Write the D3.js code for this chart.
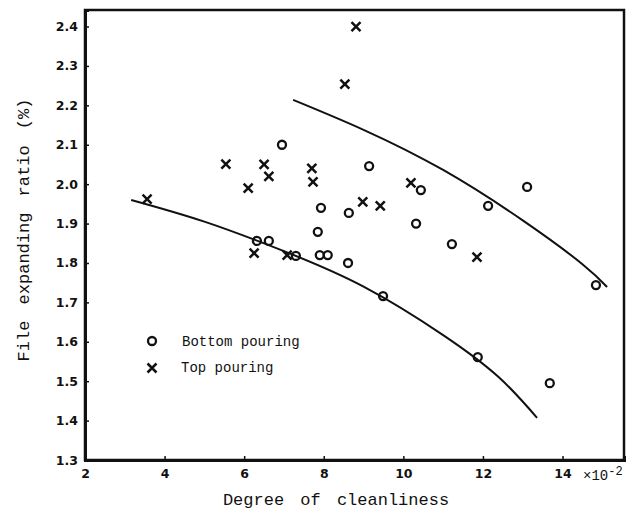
<!DOCTYPE html>
<html>
<head>
<meta charset="utf-8">
<script src="https://cdn.jsdelivr.net/npm/d3@7"></script>
<style>
    body { margin: 0; background: #fff; }
    .tick text { font-family: "DejaVu Sans", sans-serif; font-weight: bold; font-size: 12.5px; fill: #111; }
    .label { font-family: "Liberation Mono", "DejaVu Sans Mono", monospace; fill: #111; }
</style>
</head>
<body>
<div id="chart"></div>
<script>
// Bottom pouring (o) : degree of cleanliness (x10^-2), expanding ratio (%)
const bottomX = [6.95, 6.32, 6.62, 7.30, 7.93, 7.85, 7.90, 8.10, 8.63, 8.61, 9.14, 10.44, 10.32, 11.22, 12.13, 13.11, 14.84, 9.49, 11.87, 13.68];
const bottomY = [2.10, 1.856, 1.856, 1.818, 1.94, 1.879, 1.82, 1.82, 1.927, 1.80, 2.046, 1.985, 1.90, 1.848, 1.945, 1.993, 1.744, 1.716, 1.561, 1.495];

// Top pouring (x)
const topX = [3.56, 5.54, 6.10, 6.50, 6.62, 6.25, 7.08, 7.70, 7.73, 8.81, 8.53, 8.98, 9.42, 10.19, 11.85];
const topY = [1.962, 2.051, 1.99, 2.05, 2.02, 1.825, 1.82, 2.04, 2.006, 2.40, 2.254, 1.955, 1.945, 2.003, 1.815];

// hand drawn boundary curves
const lowerCurveX = [3.16, 5.0, 7.0, 9.0, 11.0, 12.4, 13.36];
const lowerCurveY = [1.96, 1.905, 1.83, 1.74, 1.617, 1.51, 1.407];
const upperCurveX = [7.23, 9.0, 11.0, 13.0, 14.5, 15.12];
const upperCurveY = [2.214, 2.138, 2.036, 1.908, 1.797, 1.739];

const xTicks = [2, 4, 6, 8, 10, 12, 14];
const yTicks = [1.3, 1.4, 1.5, 1.6, 1.7, 1.8, 1.9, 2.0, 2.1, 2.2, 2.3, 2.4];

var width = 626, height = 513;
var margin = {top: 10, right: 1, bottom: 53, left: 85};

var svg = d3.select("#chart")
    .append("svg")
    .attr("width", width)
    .attr("height", height);

var x = d3.scaleLinear()
    .domain([2, 15.57])
    .range([margin.left, width - margin.right]);

var y = d3.scaleLinear()
    .domain([1.3, 2.442])
    .range([height - margin.bottom, margin.top]);

// frame
svg.append("rect")
    .attr("x", margin.left)
    .attr("y", margin.top)
    .attr("width", width - margin.left - margin.right - 1)
    .attr("height", height - margin.top - margin.bottom)
    .attr("fill", "none")
    .attr("stroke", "#111")
    .attr("stroke-width", 2.5);

var xAxis = svg.append("g")
    .attr("transform", `translate(0,${height - margin.bottom})`)
    .call(d3.axisBottom(x).tickValues(xTicks).tickSize(-4).tickPadding(9).tickFormat(d3.format("d")));

var yAxis = svg.append("g")
    .attr("transform", `translate(${margin.left},0)`)
    .call(d3.axisLeft(y).tickValues(yTicks).tickSize(-4).tickPadding(7).tickFormat(d3.format(".1f")));

[xAxis, yAxis].forEach(function (a) {
    a.select(".domain").attr("stroke", "#111").attr("stroke-width", 3);
    a.selectAll(".tick line").attr("stroke", "#111").attr("stroke-width", 1.5);
});

// curves
var line = d3.line()
    .x(d => x(d[0]))
    .y(d => y(d[1]))
    .curve(d3.curveNatural);

svg.append("path")
    .datum(lowerCurveX.map((v, i) => [v, lowerCurveY[i]]))
    .attr("d", line)
    .attr("fill", "none")
    .attr("stroke", "#111")
    .attr("stroke-width", 2);

svg.append("path")
    .datum(upperCurveX.map((v, i) => [v, upperCurveY[i]]))
    .attr("d", line)
    .attr("fill", "none")
    .attr("stroke", "#111")
    .attr("stroke-width", 2);

// markers
function circleMark(g, cx, cy) {
    g.append("circle")
        .attr("cx", cx)
        .attr("cy", cy)
        .attr("r", 4)
        .attr("fill", "none")
        .attr("stroke", "#111")
        .attr("stroke-width", 2.3);
}

function crossMark(g, cx, cy) {
    var s = 4.5;
    g.append("path")
        .attr("d", `M${cx - s},${cy - s}L${cx + s},${cy + s}M${cx + s},${cy - s}L${cx - s},${cy + s}`)
        .attr("stroke", "#111")
        .attr("stroke-width", 2.5);
}

var marks = svg.append("g");
bottomX.forEach(function (v, i) {
    circleMark(marks, x(v), y(bottomY[i]));
});
topX.forEach(function (v, i) {
    crossMark(marks, x(v), y(topY[i]));
});

// legend
var legend = svg.append("g");
circleMark(legend, 152, 341);
legend.append("text")
    .attr("class", "label")
    .attr("x", 182)
    .attr("y", 346)
    .style("font-size", "14px")
    .text("Bottom pouring");
crossMark(legend, 152, 368);
legend.append("text")
    .attr("class", "label")
    .attr("x", 181)
    .attr("y", 372)
    .style("font-size", "14px")
    .text("Top pouring");

// axis titles
svg.append("text")
    .attr("class", "label")
    .attr("x", 336)
    .attr("y", 505)
    .attr("text-anchor", "middle")
    .style("font-size", "17px")
    .style("word-spacing", "6px")
    .text("Degree of cleanliness");

svg.append("text")
    .attr("class", "label")
    .attr("transform", "translate(29,230) rotate(-90)")
    .attr("text-anchor", "middle")
    .style("font-size", "17px")
    .style("word-spacing", "6px")
    .text("File expanding ratio (%)");

var unit = svg.append("text")
    .attr("class", "label")
    .attr("x", 583)
    .attr("y", 480)
    .style("font-size", "14px");
unit.append("tspan").text("×10");
unit.append("tspan").attr("dy", -5).style("font-size", "12px").text("-2");
</script>
</body>
</html>
